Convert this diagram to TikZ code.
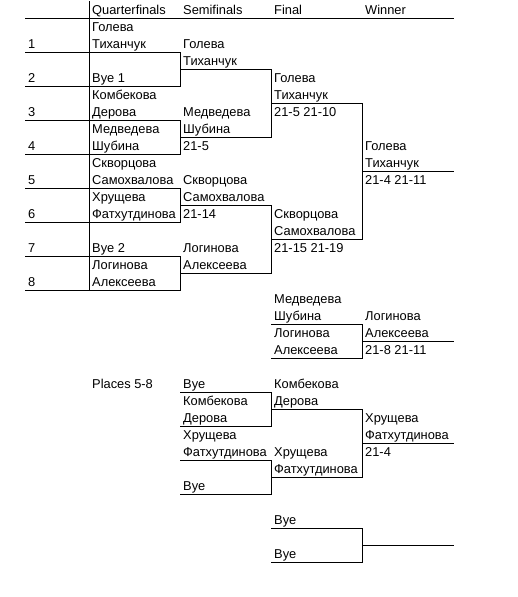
\documentclass[tikz,border=0pt]{standalone}
\usepackage{fontspec}
\setmainfont{Liberation Sans}
\newcommand\hln[3]{\draw[ln] (#2,{18+17*#1}) -- (#3,{18+17*#1});}
\newcommand\vln[3]{\draw[ln] (#1,{18+17*#2}) -- (#1,{18+17*#3});}
\newcommand\cel[4]{\node[cel] (#1) at ({#2+3},{14+17*#3}) {#4};}
\begin{document}
\begin{tikzpicture}[x=1pt,y=-1pt,
  ln/.style={line width=1pt,line cap=rect},
  cel/.style={inner sep=0pt,anchor=base west,font=\fontsize{12.85}{14}\selectfont}]
\useasboundingbox[fill=white] (0,0) rectangle (518,597);
% header
\cel{hq}{89}{0}{Quarterfinals}
\cel{hs}{180}{0}{Semifinals}
\cel{hf}{271}{0}{Final}
\cel{hw}{362}{0}{Winner}
\draw[ln] (25,18) -- (453,18);
\draw[ln] (89,1) -- (89,290);
% numbers
\cel{n1}{25}{2}{1}
\cel{n2}{25}{4}{2}
\cel{n3}{25}{6}{3}
\cel{n4}{25}{8}{4}
\cel{n5}{25}{10}{5}
\cel{n6}{25}{12}{6}
\cel{n7}{25}{14}{7}
\cel{n8}{25}{16}{8}
% quarterfinals
\cel{b1}{89}{1}{Голева}
\cel{b2}{89}{2}{Тиханчук}
\cel{b4}{89}{4}{Bye 1}
\cel{b5}{89}{5}{Комбекова}
\cel{b6}{89}{6}{Дерова}
\cel{b7}{89}{7}{Медведева}
\cel{b8}{89}{8}{Шубина}
\cel{b9}{89}{9}{Скворцова}
\cel{b10}{89}{10}{Самохвалова}
\cel{b11}{89}{11}{Хрущева}
\cel{b12}{89}{12}{Фатхутдинова}
\cel{b14}{89}{14}{Bye 2}
\cel{b15}{89}{15}{Логинова}
\cel{b16}{89}{16}{Алексеева}
\cel{b22}{89}{22}{Places 5-8}
% semifinals
\cel{c2}{180}{2}{Голева}
\cel{c3}{180}{3}{Тиханчук}
\cel{c6}{180}{6}{Медведева}
\cel{c7}{180}{7}{Шубина}
\cel{c8}{180}{8}{21-5}
\cel{c10}{180}{10}{Скворцова}
\cel{c11}{180}{11}{Самохвалова}
\cel{c12}{180}{12}{21-14}
\cel{c14}{180}{14}{Логинова}
\cel{c15}{180}{15}{Алексеева}
\cel{c22}{180}{22}{Bye}
\cel{c23}{180}{23}{Комбекова}
\cel{c24}{180}{24}{Дерова}
\cel{c25}{180}{25}{Хрущева}
\cel{c26}{180}{26}{Фатхутдинова}
\cel{c28}{180}{28}{Bye}
% final
\cel{d4}{271}{4}{Голева}
\cel{d5}{271}{5}{Тиханчук}
\cel{d6}{271}{6}{21-5 21-10}
\cel{d12}{271}{12}{Скворцова}
\cel{d13}{271}{13}{Самохвалова}
\cel{d14}{271}{14}{21-15 21-19}
\cel{d17}{271}{17}{Медведева}
\cel{d18}{271}{18}{Шубина}
\cel{d19}{271}{19}{Логинова}
\cel{d20}{271}{20}{Алексеева}
\cel{d22}{271}{22}{Комбекова}
\cel{d23}{271}{23}{Дерова}
\cel{d26}{271}{26}{Хрущева}
\cel{d27}{271}{27}{Фатхутдинова}
\cel{d30}{271}{30}{Bye}
\cel{d32}{271}{32}{Bye}
% winner
\cel{e8}{362}{8}{Голева}
\cel{e9}{362}{9}{Тиханчук}
\cel{e10}{362}{10}{21-4 21-11}
\cel{e18}{362}{18}{Логинова}
\cel{e19}{362}{19}{Алексеева}
\cel{e20}{362}{20}{21-8 21-11}
\cel{e24}{362}{24}{Хрущева}
\cel{e25}{362}{25}{Фатхутдинова}
\cel{e26}{362}{26}{21-4}
% quarterfinal lines
\foreach \r in {2,4,...,16} {\hln{\r}{25}{180}}
\vln{180}{2}{4}
\vln{180}{6}{8}
\vln{180}{10}{12}
\vln{180}{14}{16}
% semifinal lines
\hln{3}{180}{271}
\hln{7}{180}{271}
\hln{11}{180}{271}
\hln{15}{180}{271}
\vln{271}{3}{7}
\vln{271}{11}{15}
% final lines
\hln{5}{271}{362}
\hln{13}{271}{362}
\vln{362}{5}{13}
\hln{9}{362}{453}
% third place
\hln{18}{271}{362}
\hln{20}{271}{362}
\vln{362}{18}{20}
\hln{19}{362}{453}
% places 5-8
\hln{22}{180}{271}
\hln{24}{180}{271}
\vln{271}{22}{24}
\hln{26}{180}{271}
\hln{28}{180}{271}
\vln{271}{26}{28}
\hln{23}{271}{362}
\hln{27}{271}{362}
\vln{362}{23}{27}
\hln{25}{362}{453}
% bottom
\hln{30}{271}{362}
\hln{32}{271}{362}
\vln{362}{30}{32}
\hln{31}{362}{453}
\end{tikzpicture}
\end{document}
